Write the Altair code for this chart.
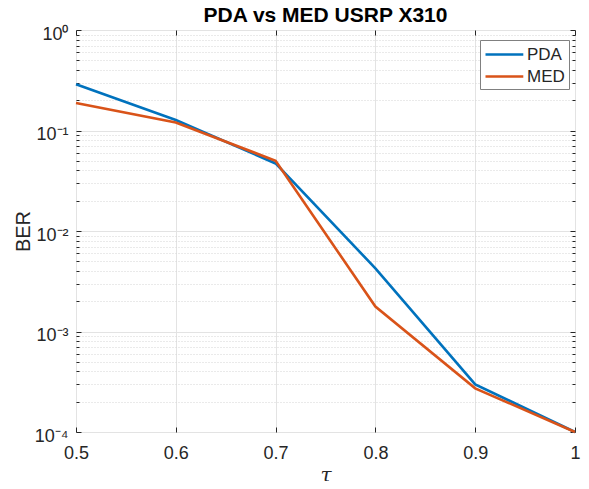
import altair as alt
import pandas as pd

tau = [0.5, 0.6, 0.7, 0.8, 0.9, 1.0]
ber_pda = [0.288, 0.127, 0.047, 0.00425, 0.000298, 0.0001]
ber_med = [0.188, 0.120, 0.050, 0.00177, 0.000272, 0.0001]
series = ["PDA", "MED"]
colors = ["#0072BD", "#D95319"]

x_ticks = [0.5, 0.6, 0.7, 0.8, 0.9, 1.0]
y_major = [1e-4, 1e-3, 1e-2, 1e-1, 1.0]
y_minor = [m * 10.0 ** e for e in range(-4, 0) for m in range(2, 10)]

rows = []
for t, v in zip(tau, ber_pda):
    rows.append({"tau": t, "ber": v, "method": "PDA"})
for t, v in zip(tau, ber_med):
    rows.append({"tau": t, "ber": v, "method": "MED"})
df = pd.DataFrame(rows)

FONT = "Liberation Sans"
DARK = "#262626"

xs = alt.Scale(domain=[0.5, 1.0], nice=False, zero=False)
ys = alt.Scale(type="log", domain=[1e-4, 1.0], nice=False)

base = alt.Chart(df)

main = base.mark_line(strokeWidth=2.6).encode(
    x=alt.X("tau:Q", scale=xs, title="τ",
            axis=alt.Axis(orient="bottom", values=x_ticks, format="~g", grid=True,
                          gridColor="#e3e3e3", ticks=False, domain=False, labelFlush=False,
                          labelFont=FONT, labelFontSize=18, labelColor=DARK, labelPadding=12,
                          titleFont="DejaVu Serif", titleFontStyle="italic",
                          titleFontWeight="normal", titleFontSize=20, titleColor=DARK,
                          titlePadding=3)),
    y=alt.Y("ber:Q", scale=ys, title="BER",
            axis=alt.Axis(orient="left", values=y_major,
                          labelExpr="'10' + ['⁰','⁻¹','⁻²','⁻³','⁻⁴'][round(-log(datum.value)/LN10)]",
                          grid=True, gridColor="#e3e3e3", ticks=False, domain=False,
                          labelFont=FONT, labelFontSize=18, labelColor=DARK, labelPadding=8,
                          labelOffset=4,
                          titleFont=FONT, titleFontSize=20, titleFontWeight="normal",
                          titleColor=DARK, titlePadding=1)),
    color=alt.Color("method:N", scale=alt.Scale(domain=series, range=colors), title=None,
                    legend=alt.Legend(orient="none", legendX=404, legendY=10,
                                      symbolType="M-1,0H3.2", symbolSize=324,
                                      symbolStrokeWidth=2.6, labelFont=FONT, labelFontSize=17,
                                      labelColor=DARK, labelOffset=22, padding=4, rowPadding=3,
                                      strokeColor="#808080", fillColor="white")),
)


def ghost(yaxis, xaxis):
    return base.mark_line(opacity=0).encode(
        x=alt.X("tau:Q", scale=xs, axis=xaxis),
        y=alt.Y("ber:Q", scale=ys, axis=yaxis),
        detail="method:N",
    )


def tick_axis(orient, values, size):
    return alt.Axis(orient=orient, values=values, offset=-size, tickSize=size, grid=False,
                    labels=False, domain=False, title=None, tickColor=DARK, tickWidth=1)


minor_grid = ghost(
    alt.Axis(orient="left", values=y_minor, grid=True, gridColor="#d4d4d4",
             gridDash=[1, 2], labels=False, ticks=False, domain=False, title=None),
    None,
)

layers = [
    minor_grid,
    main,
    ghost(tick_axis("left", y_major, 5), None),
    ghost(tick_axis("left", y_minor, 3), None),
    ghost(tick_axis("right", y_major, 5), None),
    ghost(tick_axis("right", y_minor, 3), None),
    ghost(None, tick_axis("bottom", x_ticks, 5)),
    ghost(None, tick_axis("top", x_ticks, 5)),
]

chart = alt.layer(*layers).resolve_axis(x="independent", y="independent").properties(
    width=499, height=402,
    title=alt.TitleParams("PDA vs MED USRP X310", font=FONT, fontSize=21, fontWeight="bold",
                          color="black", anchor="middle", frame="group", offset=0, dy=1),
    autosize=alt.AutoSizeParams(type="none"),
    padding={"left": 68, "top": 22, "right": 6, "bottom": 49},
).configure_view(stroke=DARK, strokeWidth=1).configure(background="white")

chart.save("out.html", embed_options={"renderer": "svg", "actions": False})
